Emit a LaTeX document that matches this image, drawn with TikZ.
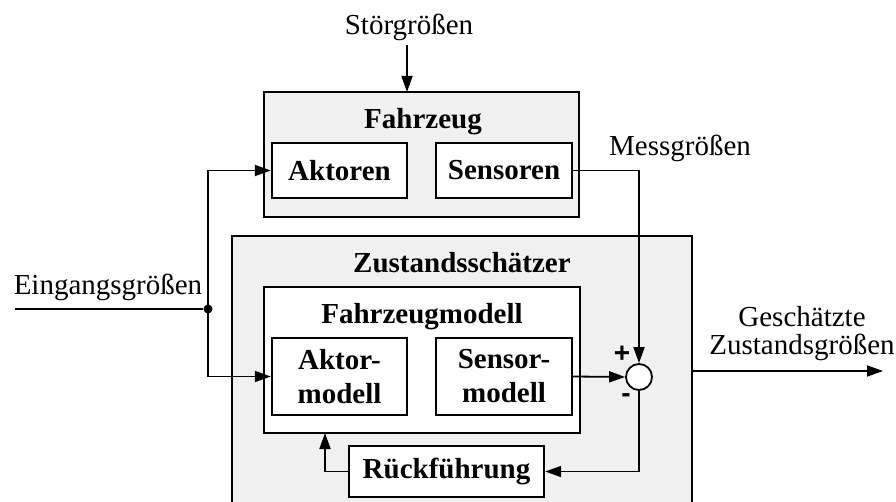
\documentclass[tikz,border=0pt]{standalone}
\usepackage{fontspec}
\setmainfont{Liberation Serif}
\newfontfamily\signfont{Liberation Sans}
\usetikzlibrary{arrows.meta}
\definecolor{boxgray}{HTML}{F0F0F0}
\tikzset{
  outerbox/.style={draw, line width=2.4pt, fill=boxgray, inner sep=0pt},
  innerbox/.style={draw, line width=2.4pt, fill=white, inner sep=0pt, font=\fontsize{29}{34}\selectfont\bfseries, align=center},
  title/.style={font=\fontsize{29}{34}\selectfont\bfseries, inner sep=0pt},
  lbl/.style={font=\fontsize{29}{28}\selectfont, inner sep=0pt, align=center},
  conn/.style={line width=1.8pt},
  arr/.style={conn, -{Triangle[length=16pt,width=11pt]}},
  sign/.style={font=\fontsize{28}{28}\selectfont\signfont\bfseries, inner sep=0pt},
}
\begin{document}
\begin{tikzpicture}[x=1pt,y=-1pt]
\useasboundingbox (0,0) rectangle (896,502);
\clip (0,0) rectangle (896,502);
% Fahrzeug
\node[outerbox, minimum width=315pt, minimum height=125pt] (fz) at (421.5,154.5) {};
\node[title] (fzt) at (423,122) {Fahrzeug};
\node[innerbox, minimum width=135pt, minimum height=55pt] (akt) at (339.5,170.5) {Aktoren};
\node[innerbox, minimum width=136pt, minimum height=55pt] (sen) at (504,170.5) {Sensoren};
% Zustandsschaetzer
\node[outerbox, minimum width=460pt, minimum height=284pt] (zs) at (462,378) {};
\node[title] (zst) at (462,263) {Zustandsschätzer};
\node[draw, line width=2.4pt, fill=white, minimum width=316pt, minimum height=146pt, inner sep=0pt] (fzm) at (422,360) {};
\node[title] (fzmt) at (422,317) {Fahrzeugmodell};
\node[innerbox, minimum width=135pt, minimum height=77pt] (aktm) at (339.5,376.5) {Aktor-\\modell};
\node[innerbox, minimum width=136pt, minimum height=77pt] (senm) at (504,376.5) {Sensor-\\modell};
\node[innerbox, minimum width=195pt, minimum height=51pt] (rf) at (446.5,471.5) {Rückführung};
\node[draw, line width=1.8pt, fill=white, circle, minimum size=26pt, inner sep=0pt] (sum) at (639,377) {};
\node[sign] (plus) at (622,354) {+};
\node[sign] (minus) at (626,398) {-};
% labels
\node[lbl] (stor) at (409,27) {Störgrößen};
\node[lbl] (mess) at (680,148) {Messgrößen};
\node[lbl] (ein) at (108,287) {Eingangsgrößen};
\node[lbl] (ges) at (802,334) {Geschätzte\\Zustandsgrößen};
% junction
\coordinate (instart) at (15,309);
\node[circle, fill, minimum size=9pt, inner sep=0pt] (dot) at (208,309) {};
\coordinate (fb) at (325,433);
\coordinate (out) at (883,371);
% connectors
\draw[conn] (instart) -- (dot);
\draw[arr] (dot.center) |- (akt.west);
\draw[arr] (dot.center) |- (aktm.west);
\draw[arr] (407,45) -- (407,92) coordinate (fztop);
\draw[arr] (sen.east) -| (sum.north);
\draw[arr] (senm.east) -- (sum.west);
\draw[arr] (sum.south) |- (rf.east);
\draw[arr] (rf.west) -| (fb);
\draw[arr] (out -| zs.east) -- (out);
\end{tikzpicture}
\end{document}
